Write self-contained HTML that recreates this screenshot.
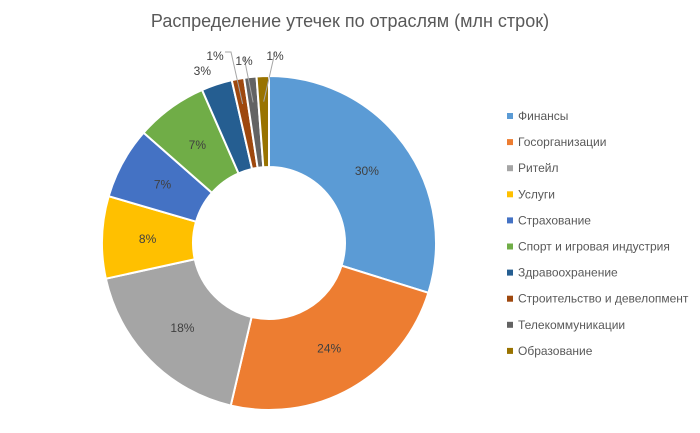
<!DOCTYPE html>
<html><head><meta charset="utf-8"><style>
body{margin:0;background:#fff;}
svg text{font-family:"Liberation Sans",sans-serif;}
</style></head><body>
<svg id="chart" width="700" height="428">
<text x="350" y="27" text-anchor="middle" font-size="18" fill="#595959">Распределение утечек по отраслям (млн строк)</text>
<g id="slices"></g><g id="labels"></g><g id="legend"></g>
</svg>
<script>
const categories=["Финансы","Госорганизации","Ритейл","Услуги","Страхование","Спорт и игровая индустрия","Здравоохранение","Строительство и девелопмент","Телекоммуникации","Образование"];
const values=[30,24,18,8,7,7,3,1.2,1.2,1.2];
const valueLabels=["30%","24%","18%","8%","7%","7%","3%","1%","1%","1%"];
const colors=["#5b9bd5","#ed7d31","#a5a5a5","#ffc000","#4472c4","#70ad47","#255e91","#9e480e","#636363","#997300"];
const NS="http://www.w3.org/2000/svg";
const cx=269,cy=243,R=167,r=76;
const total=values.reduce((a,b)=>a+b,0);
function pt(a,rad){return [cx+rad*Math.sin(a),cy-rad*Math.cos(a)];}
const gS=document.getElementById('slices'),gL=document.getElementById('labels'),gG=document.getElementById('legend');
let cum=0;
const smallPos=[[215,56],[244,61],[275,56]];let si=0;
values.forEach((v,i)=>{
  const a0=cum/total*2*Math.PI,a1=(cum+v)/total*2*Math.PI;cum+=v;
  const [x0,y0]=pt(a0,R),[x1,y1]=pt(a1,R),[x2,y2]=pt(a1,r),[x3,y3]=pt(a0,r);
  const lg=(a1-a0)>Math.PI?1:0;
  const p=document.createElementNS(NS,'path');
  p.setAttribute('d',`M${x0},${y0}A${R},${R} 0 ${lg} 1 ${x1},${y1}L${x2},${y2}A${r},${r} 0 ${lg} 0 ${x3},${y3}Z`);
  p.setAttribute('fill',colors[i]);p.setAttribute('stroke','#fff');p.setAttribute('stroke-width','2');
  
  
  gS.appendChild(p);
  const am=(a0+a1)/2;
  let lx,ly;
  if(v/total>=0.05){[lx,ly]=pt(am,(R+r)/2);}
  else if(v/total>=0.02){[lx,ly]=pt(am,R+14);lx-=10;}
  else{
    [lx,ly]=smallPos[si++%3];
    const [ax,ay]=pt(am,(R+r)/2+20);
    const l=document.createElementNS(NS,'polyline');
    l.setAttribute('points',`${lx+(si==1?10:0)},${ly-4} ${si==1?lx+16:lx},${ly-4} ${ax},${ay}`);
    l.setAttribute('fill','none');l.setAttribute('stroke','#a6a6a6');
    
    
    gL.appendChild(l);
  }
  const t=document.createElementNS(NS,'text');
  t.setAttribute('x',lx);t.setAttribute('y',ly+4);t.setAttribute('text-anchor','middle');
  t.setAttribute('font-size','12');t.setAttribute('fill','#404040');t.textContent=valueLabels[i];
  
  
  gL.appendChild(t);
  const y=117+i*26.1;
  const m=document.createElementNS(NS,'rect');
  m.setAttribute('x',507);m.setAttribute('y',y-4);m.setAttribute('width',6);m.setAttribute('height',6);m.setAttribute('fill',colors[i]);
  
  
  gG.appendChild(m);
  const lt=document.createElementNS(NS,'text');
  lt.setAttribute('x',518);lt.setAttribute('y',y+3);lt.setAttribute('font-size','12');lt.setAttribute('fill','#595959');lt.textContent=categories[i];
  
  
  gG.appendChild(lt);
});
</script>
</body></html>
